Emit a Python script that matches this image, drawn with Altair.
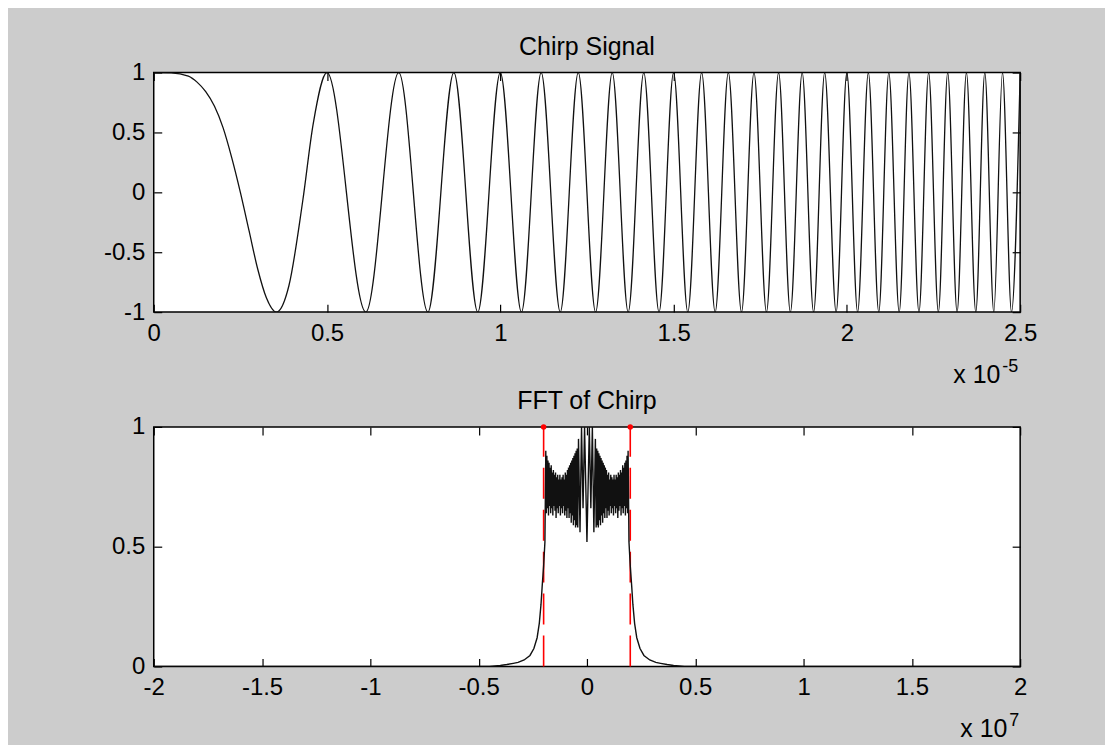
import altair as alt
import pandas as pd

# ---------------- data ----------------
# Chirp signal: time (x 1e-5 s) and amplitude at turning points / shoulder points
chirp_t = [0.000, 0.050, 0.100, 0.125, 0.150, 0.175, 0.200, 0.225, 0.250, 0.275,
           0.300, 0.325, 0.354, 0.390, 0.430, 0.460, 0.500, 0.612,
           0.707, 0.791, 0.866, 0.935, 1.000, 1.061, 1.118, 1.173, 1.225, 1.275,
           1.323, 1.369, 1.414, 1.458, 1.500, 1.541, 1.581, 1.620, 1.658, 1.696,
           1.732, 1.768, 1.803, 1.837, 1.871, 1.904, 1.936, 1.969, 2.000, 2.031,
           2.062, 2.092, 2.121, 2.151, 2.179, 2.208, 2.236, 2.264, 2.291, 2.318,
           2.345, 2.372, 2.398, 2.424, 2.449, 2.475, 2.500]
chirp_v = [1, 0.998, 0.97, 0.92, 0.84, 0.72, 0.54, 0.29, 0.00, -0.32,
           -0.64, -0.88, -1, -0.78, -0.07, 0.57, 1, -1,
           1, -1, 1, -1, 1, -1, 1, -1, 1, -1,
           1, -1, 1, -1, 1, -1, 1, -1, 1, -1,
           1, -1, 1, -1, 1, -1, 1, -1, 1, -1,
           1, -1, 1, -1, 1, -1, 1, -1, 1, -1,
           1, -1, 1, -1, 1, -1, 1]

# FFT magnitude, negative-frequency tail and edge (x 1e7 Hz)
tail_l_f = [-2.000, -0.450, -0.400, -0.370, -0.340, -0.318, -0.290, -0.263, -0.245, -0.230,
            -0.220, -0.212, -0.207, -0.200, -0.194, -0.190]
tail_l_m = [0.000, 0.000, 0.004, 0.008, 0.013, 0.017, 0.027, 0.046, 0.075, 0.120,
            0.180, 0.260, 0.330, 0.420, 0.520, 0.900]

# ripple plateau, negative side
plat_l_f = [-0.1875, -0.1850, -0.1825, -0.1800, -0.1775, -0.1750, -0.1725, -0.1700,
            -0.1675, -0.1650, -0.1625, -0.1600, -0.1575, -0.1550, -0.1525, -0.1500,
            -0.1475, -0.1450, -0.1425, -0.1400, -0.1375, -0.1350, -0.1325, -0.1300,
            -0.1275, -0.1250, -0.1225, -0.1200, -0.1175, -0.1150, -0.1125, -0.1100,
            -0.1075, -0.1050, -0.1025, -0.1000, -0.0975, -0.0950, -0.0925, -0.0900,
            -0.0875, -0.0850, -0.0825, -0.0800, -0.0775, -0.0750, -0.0725, -0.0700,
            -0.0675, -0.0650, -0.0625, -0.0600, -0.0575, -0.0550, -0.0525, -0.0500,
            -0.0475, -0.0450, -0.0425, -0.0390, -0.0320, -0.0250, -0.0180, -0.0110]
plat_l_m = [0.64, 0.88, 0.66, 0.86, 0.63, 0.85, 0.67, 0.83,
            0.64, 0.84, 0.66, 0.81, 0.63, 0.82, 0.67, 0.80,
            0.65, 0.81, 0.62, 0.79, 0.66, 0.80, 0.64, 0.78,
            0.67, 0.80, 0.63, 0.78, 0.66, 0.79, 0.64, 0.80,
            0.67, 0.78, 0.63, 0.81, 0.65, 0.80, 0.62, 0.82,
            0.66, 0.83, 0.62, 0.84, 0.64, 0.85, 0.60, 0.86,
            0.63, 0.87, 0.59, 0.88, 0.61, 0.89, 0.58, 0.90,
            0.59, 0.91, 0.58, 0.95, 0.56, 1.00, 0.66, 1.00]

# centre dip
centre_f = [0.000]
centre_m = [0.520]

# ripple plateau, positive side
plat_r_f = [0.0110, 0.0180, 0.0250, 0.0320, 0.0390, 0.0425, 0.0450, 0.0475,
            0.0500, 0.0525, 0.0550, 0.0575, 0.0600, 0.0625, 0.0650, 0.0675,
            0.0700, 0.0725, 0.0750, 0.0775, 0.0800, 0.0825, 0.0850, 0.0875,
            0.0900, 0.0925, 0.0950, 0.0975, 0.1000, 0.1025, 0.1050, 0.1075,
            0.1100, 0.1125, 0.1150, 0.1175, 0.1200, 0.1225, 0.1250, 0.1275,
            0.1300, 0.1325, 0.1350, 0.1375, 0.1400, 0.1425, 0.1450, 0.1475,
            0.1500, 0.1525, 0.1550, 0.1575, 0.1600, 0.1625, 0.1650, 0.1675,
            0.1700, 0.1725, 0.1750, 0.1775, 0.1800, 0.1825, 0.1850, 0.1875]
plat_r_m = [1.00, 0.66, 1.00, 0.56, 0.95, 0.58, 0.91, 0.59,
            0.90, 0.58, 0.89, 0.61, 0.88, 0.59, 0.87, 0.63,
            0.86, 0.60, 0.85, 0.64, 0.84, 0.62, 0.83, 0.66,
            0.82, 0.62, 0.80, 0.65, 0.81, 0.63, 0.78, 0.67,
            0.80, 0.64, 0.79, 0.66, 0.78, 0.63, 0.80, 0.67,
            0.78, 0.64, 0.80, 0.66, 0.79, 0.62, 0.81, 0.65,
            0.80, 0.67, 0.82, 0.63, 0.81, 0.66, 0.84, 0.64,
            0.83, 0.67, 0.85, 0.63, 0.86, 0.66, 0.88, 0.64]

# positive-frequency edge and tail
tail_r_f = [0.190, 0.194, 0.200, 0.207, 0.212, 0.220, 0.230, 0.245, 0.263, 0.290,
            0.318, 0.340, 0.370, 0.400, 0.450, 2.000]
tail_r_m = [0.900, 0.520, 0.420, 0.330, 0.260, 0.180, 0.120, 0.075, 0.046, 0.027,
            0.017, 0.013, 0.008, 0.004, 0.000, 0.000]

# band edges marked in red
edge_f = [-0.2, 0.2]
edge_lo = [0, 0]
edge_hi = [1, 1]

# tick values
top_xticks = [0, 0.5, 1, 1.5, 2, 2.5]
top_yticks = [-1, -0.5, 0, 0.5, 1]
bot_xticks = [-2, -1.5, -1, -0.5, 0, 0.5, 1, 1.5, 2]
bot_yticks = [0, 0.5, 1]

titles = ["Chirp Signal", "FFT of Chirp"]
exp_base = "x 10"
exp_powers = ["-5", "7"]

# ---------------- style ----------------
FONT = "Liberation Sans"
W, H = 868, 240
TICK_FS = 24
TITLE_FS = 25
BG = "#CCCCCC"

chirp_df = pd.DataFrame({"t": chirp_t, "v": chirp_v})
fft_df = pd.DataFrame({
    "f": tail_l_f + plat_l_f + centre_f + plat_r_f + tail_r_f,
    "m": tail_l_m + plat_l_m + centre_m + plat_r_m + tail_r_m,
})
edge_df = pd.DataFrame({"f": edge_f, "lo": edge_lo, "hi": edge_hi})
one = pd.DataFrame({"k": [0]})

LABEL_EXPR = "datum.value < 0 ? '-' + format(-datum.value, '~g') : format(datum.value, '~g')"


def ax(orient, values, labels=True):
    return alt.Axis(orient=orient, values=values, labels=labels, grid=False,
                    domain=False, ticks=True, tickSize=8, tickWidth=1.2,
                    tickColor="black", offset=-8, title=None,
                    labelExpr=LABEL_EXPR, labelFlush=False, labelOverlap=False,
                    labelFont=FONT, labelFontSize=TICK_FS, labelColor="black",
                    labelPadding=9)


def text_at(txt, x, y, size, align="left"):
    return alt.Chart(one).mark_text(font=FONT, fontSize=size, align=align,
                                    baseline="alphabetic", color="black").encode(
        x=alt.value(x), y=alt.value(y), text=alt.value(txt))


def corner(x, y):
    return alt.Chart(one).mark_rule(color=BG, strokeWidth=1).encode(
        x=alt.value(x), x2=alt.value(x + 4), y=alt.value(y), y2=alt.value(y))


# ---------------- top panel ----------------
xs_top = alt.Scale(domain=[0, 2.5], nice=False, zero=False)
ys_top = alt.Scale(domain=[-1, 1], nice=False, zero=False)

top_line = alt.Chart(chirp_df).mark_line(
    color="#111111", strokeWidth=1.3, interpolate="monotone", clip=True).encode(
    x=alt.X("t:Q", scale=xs_top, axis=ax("bottom", top_xticks)),
    y=alt.Y("v:Q", scale=ys_top, axis=ax("left", top_yticks)),
)
top_mirror = alt.Chart(chirp_df).mark_line(strokeOpacity=0).encode(
    x=alt.X("t:Q", scale=xs_top, axis=ax("top", top_xticks, labels=False)),
    y=alt.Y("v:Q", scale=ys_top, axis=ax("right", top_yticks, labels=False)),
)

top = alt.layer(
    top_line, top_mirror,
    text_at(titles[0], W / 2, -18, TITLE_FS, align="center"),
    text_at(exp_base, 801, 311, 25),
    text_at(exp_powers[0], 850, 300, 18),
    corner(-144.5, -62.5),
).resolve_axis(x="independent", y="independent").properties(width=W, height=H)

# ---------------- bottom panel ----------------
xs_bot = alt.Scale(domain=[-2, 2], nice=False, zero=False)
ys_bot = alt.Scale(domain=[0, 1], nice=False, zero=False)

fft_line = alt.Chart(fft_df).mark_line(color="#111111", strokeWidth=1.4, clip=True).encode(
    x=alt.X("f:Q", scale=xs_bot, axis=ax("bottom", bot_xticks), sort=None),
    y=alt.Y("m:Q", scale=ys_bot, axis=ax("left", bot_yticks)),
)
fft_mirror = alt.Chart(fft_df).mark_line(strokeOpacity=0).encode(
    x=alt.X("f:Q", scale=xs_bot, axis=ax("top", bot_xticks, labels=False)),
    y=alt.Y("m:Q", scale=ys_bot, axis=ax("right", bot_yticks, labels=False)),
)
edge_rules = alt.Chart(edge_df).mark_rule(
    color="red", strokeWidth=1.6, strokeDash=[31, 11]).encode(
    x=alt.X("f:Q", scale=xs_bot, axis=None),
    y=alt.Y("lo:Q", scale=ys_bot, axis=None),
    y2="hi:Q",
)
edge_dots = alt.Chart(edge_df).mark_point(
    filled=True, color="red", size=30, opacity=1).encode(
    x=alt.X("f:Q", scale=xs_bot, axis=None),
    y=alt.Y("hi:Q", scale=ys_bot, axis=None),
)

bottom = alt.layer(
    edge_rules, fft_line, fft_mirror, edge_dots,
    text_at(titles[1], W / 2, -18, TITLE_FS, align="center"),
    text_at(exp_base, 808, 311, 25),
    text_at(exp_powers[1], 857, 300, 18),
    corner(W + 84 - 4.5, H + 77 - 0.5),
).resolve_axis(x="independent", y="independent").properties(width=W, height=H)

chart = alt.vconcat(top, bottom, spacing=115, bounds="flush").configure_view(
    stroke="black", strokeWidth=1.5, fill="white"
).properties(background=BG, padding=0)

chart.save("out.html", embed_options={"renderer": "svg", "actions": False})
